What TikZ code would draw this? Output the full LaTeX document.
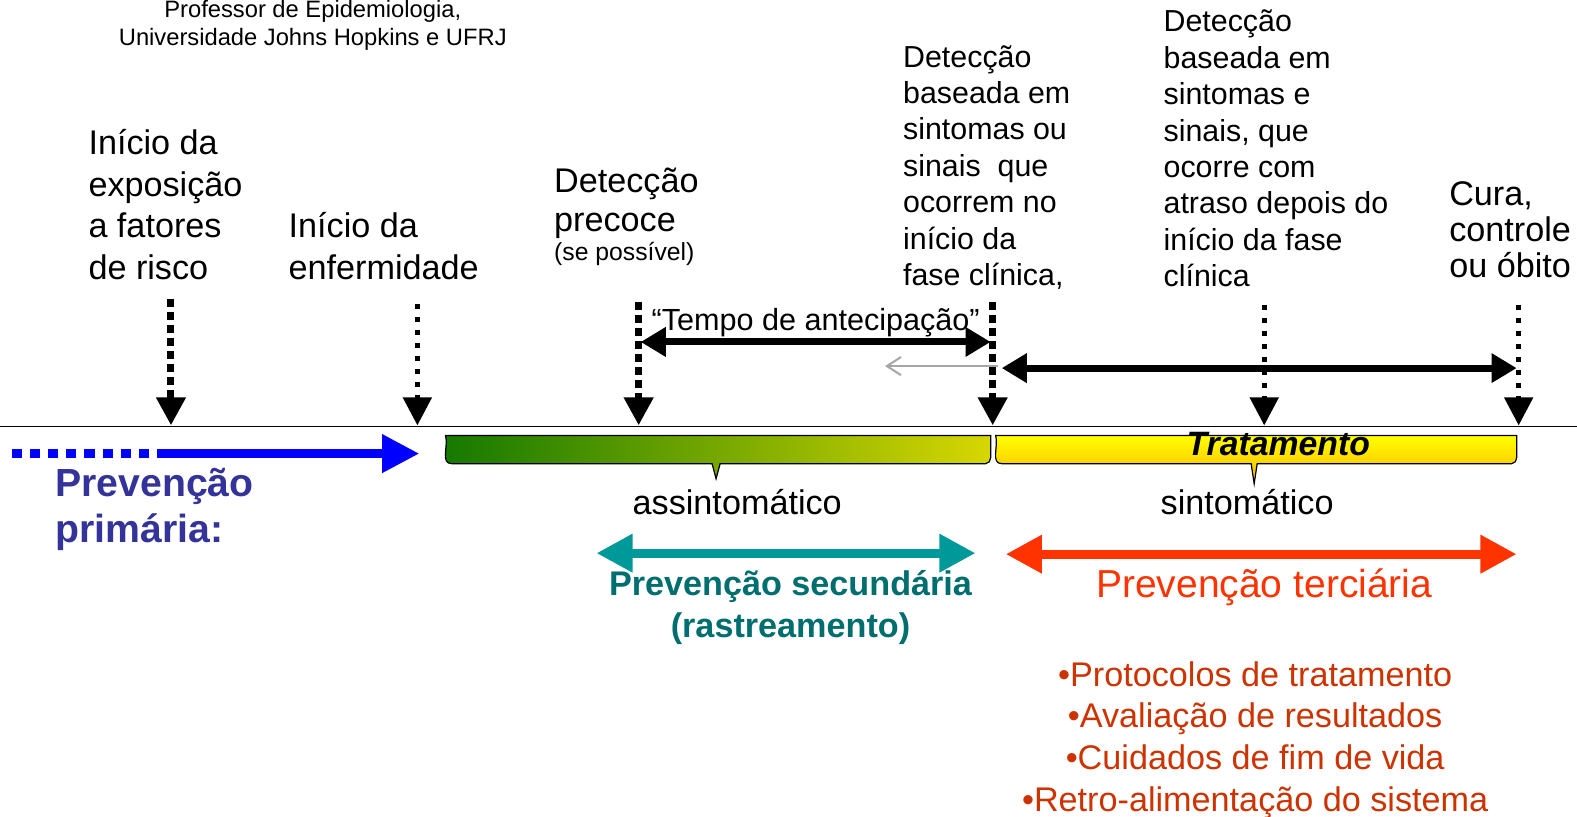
\documentclass[tikz,border=0pt]{standalone}
\usepackage{fontspec}
\setmainfont{Liberation Sans}
\usetikzlibrary{arrows.meta}
\usetikzlibrary{positioning}

\definecolor{azulseta}{RGB}{0,0,255}
\definecolor{azulprim}{RGB}{51,51,153}
\definecolor{tealseta}{RGB}{0,153,153}
\definecolor{tealtexto}{RGB}{0,110,110}
\definecolor{vermseta}{RGB}{255,51,0}
\definecolor{vermlista}{RGB}{204,51,0}
\definecolor{verdeesc}{RGB}{20,120,0}
\definecolor{verdeclaro}{RGB}{215,215,0}
\definecolor{amarelo}{RGB}{255,255,0}
\definecolor{laranja}{RGB}{255,180,0}

\begin{document}
\begin{tikzpicture}[x=0.5pt, y=-0.5pt, >={Triangle[length=14pt,width=14pt]}]
		 \tikzstyle{every node} = [inner sep=0pt, outer sep=0pt];
		 \tikzstyle{rotulo} = [anchor=base west, align=left, font=\fontsize{17}{20.75}\selectfont];
		 \tikzstyle{rotulopeq} = [anchor=base west, align=left, font=\fontsize{15.1}{18.1}\selectfont];
		 \tikzstyle{marco} = [->, line width=3.5pt, dash pattern=on 4pt off 2.5pt];
		 \tikzstyle{marcofino} = [->, line width=2.5pt, dash pattern=on 2.5pt off 4pt];
		 \tikzstyle{intervalo} = [<->, line width=3.5pt, >={Triangle[length=12.5pt,width=14pt]}];
		 \tikzstyle{prevseta} = [<->, line width=4.5pt, >={Triangle[length=18pt,width=18pt]}];

		 \useasboundingbox (0,0) rectangle (1568,812);

		 % textos de cima (base = ultima linha)
		 \node [anchor=base, align=center, font=\fontsize{11.8}{14}\selectfont] (autor) at (311,45)
		       {Professor de Epidemiologia,\\Universidade Johns Hopkins e UFRJ};
		 \node [rotulo] (expo)    at (88,278)  {Início da\\exposição\\a fatores\\de risco};
		 \node [rotulo] (enferm)  at (287,278) {Início da\\enfermidade};
		 \node [rotulo, font=\fontsize{17}{19.5}\selectfont] (precoce) at (551,230) {Detecção\\precoce};
		 \node [anchor=base west, font=\fontsize{12.3}{14}\selectfont] (possivel) at (551,259) {(se possível)};
		 \node [rotulopeq] (clinica) at (898,284)  {Detecção\\baseada em\\sintomas ou\\sinais\ \ que\\ocorrem no\\início da\\fase clínica,};
		 \node [rotulopeq] (atraso)  at (1157,285) {Detecção\\baseada em\\sintomas e\\sinais, que\\ocorre com\\atraso depois do\\início da fase\\clínica};
		 \node [rotulo, font=\fontsize{17}{18}\selectfont] (cura) at (1441,276) {Cura,\\controle\\ou óbito};

		 % linha do tempo
		 \coordinate (linhaI) at (0,424);
		 \coordinate (linhaF) at (1568,424);
		 \draw [line width=0.9pt] (linhaI) -- (linhaF);

		 \coordinate (riscoA)   at (170,297);  \coordinate (riscoB)   at (170,423);
		 \coordinate (doencaA)  at (415,302);  \coordinate (doencaB)  at (415,423);
		 \coordinate (precoceA) at (635,300);  \coordinate (precoceB) at (635,423);
		 \coordinate (clinicaA) at (987,300);  \coordinate (clinicaB) at (987,423);
		 \coordinate (atrasoA)  at (1257,303); \coordinate (atrasoB)  at (1257,423);
		 \coordinate (curaA)    at (1510,303); \coordinate (curaB)    at (1510,423);

		 \draw [marco]     (riscoA)   -- (riscoB);
		 \draw [marcofino] (doencaA)  -- (doencaB);
		 \draw [marco]     (precoceA) -- (precoceB);
		 \draw [marco]     (clinicaA) -- (clinicaB);
		 \draw [marcofino] (atrasoA)  -- (atrasoB);
		 \draw [marcofino] (curaA)    -- (curaB);

		 % tempo de antecipacao
		 \node [anchor=base, font=\fontsize{15.2}{17}\selectfont] (tempo) at (811,329) {“Tempo de antecipação”};
		 \coordinate (antecA) at (637,340);  \coordinate (antecB) at (985,340);
		 \draw [intervalo] (antecA) -- (antecB);
		 \coordinate (cinzaA) at (992,364);  \coordinate (cinzaB) at (880,364);
		 \draw [-{Straight Barb[length=7pt,width=9pt]}, gray!70, line width=1pt] (cinzaA) -- (cinzaB);
		 \coordinate (sintA) at (996,366);   \coordinate (sintB) at (1508,366);
		 \draw [intervalo] (sintA) -- (sintB);

		 % prevencao primaria
		 \coordinate (azulA) at (12,451);  \coordinate (azulM) at (166,451);  \coordinate (azulB) at (417,451);
		 \draw [azulseta, line width=4.5pt, dash pattern=on 5pt off 4pt] (azulA) -- (azulM);
		 \draw [->, azulseta, line width=4.5pt, >={Triangle[length=18.5pt,width=18pt]}] (azulM) -- (azulB);
		 \node [rotulo, font=\bfseries\fontsize{19.5}{22.5}\selectfont, text=azulprim] (primaria) at (55,539) {Prevenção\\primária:};

		 % barras
		 \shade [left color=verdeesc, right color=verdeclaro, draw=black, line width=0.6pt]
		       (443,433) -- (985,433) -- (985,455) to[out=-90,in=0] (980,461) -- (716,461) -- (712,476)
		       -- (708,461) -- (449,461) to[out=180,in=-75] (443,433) -- cycle;
		 \shade [top color=amarelo, bottom color=laranja, draw=black, line width=0.6pt]
		       (990,433) -- (1508,433) -- (1508,455) to[out=-90,in=0] (1503,461) -- (1250,461) -- (1247,481)
		       -- (1244,461) -- (996,461) to[out=180,in=-75] (990,433) -- cycle;
		 \node [anchor=base, font=\bfseries\itshape\fontsize{16.8}{18}\selectfont] (trat) at (1271,453) {Tratamento};
		 \node [anchor=base, font=\fontsize{17}{20}\selectfont] (assint) at (733,512) {assintomático};
		 \node [anchor=base, font=\fontsize{17}{20}\selectfont] (sint) at (1240,512) {sintomático};

		 % prevencao secundaria e terciaria
		 \coordinate (secA) at (593,550);   \coordinate (secB) at (970,550);
		 \draw [prevseta, tealseta] (secA) -- (secB);
		 \node [anchor=base, align=center, font=\bfseries\fontsize{17}{21}\selectfont, text=tealtexto] (secund) at (786,634)
		       {Prevenção secundária\\(rastreamento)};
		 \coordinate (terA) at (1000,551);  \coordinate (terB) at (1508,551);
		 \draw [prevseta, vermseta] (terA) -- (terB);
		 \node [anchor=base, font=\fontsize{19.4}{22}\selectfont, text=vermseta] (terciaria) at (1257,594) {Prevenção terciária};
		 \node [anchor=base, align=center, font=\fontsize{17}{20.8}\selectfont, text=vermlista] (lista) at (1248,807)
		       {•Protocolos de tratamento\\•Avaliação de resultados\\•Cuidados de fim de vida\\•Retro-alimentação do sistema};
\end{tikzpicture}
\end{document}
